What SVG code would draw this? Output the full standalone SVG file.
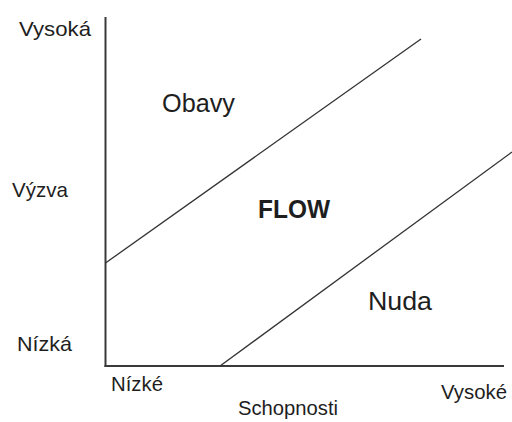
<svg xmlns="http://www.w3.org/2000/svg" width="512" height="422" viewBox="0 0 512 422">
<style>
.t{font-family:"Liberation Sans",Arial,sans-serif;fill:#1e1e1e;font-size:21px}
.big{font-size:25px}
.mid{font-size:20px}
.bold{font-size:25px;font-weight:bold}
.axis{stroke:#3a3a3a;stroke-width:2;fill:none}
.bound{stroke:#333;stroke-width:1.3;fill:none}
</style>
<rect width="512" height="422" fill="#fff"/>
<g id="axes">
<line class="axis" x1="105.5" y1="17" x2="105.5" y2="367"/>
<line class="axis" x1="104.5" y1="366" x2="504" y2="366"/>
</g>
<g id="connectors">
<line class="bound" x1="105.5" y1="263" x2="421" y2="39"/>
<line class="bound" x1="220" y1="366" x2="512" y2="152"/>
</g>
<g id="y-labels">
<text class="t" x="19" y="36" textLength="72" lengthAdjust="spacingAndGlyphs">Vysoká</text>
<text class="t" x="12" y="197" textLength="56" lengthAdjust="spacingAndGlyphs">Výzva</text>
<text class="t" x="17" y="351" textLength="55" lengthAdjust="spacingAndGlyphs">Nízká</text>
</g>
<g id="x-labels">
<text class="t" x="111" y="391" textLength="52" lengthAdjust="spacingAndGlyphs">Nízké</text>
<text class="t mid" x="238" y="415" textLength="100" lengthAdjust="spacingAndGlyphs">Schopnosti</text>
<text class="t" x="441" y="399" textLength="66" lengthAdjust="spacingAndGlyphs">Vysoké</text>
</g>
<g id="obavy"><text class="t big" x="162" y="112" textLength="73" lengthAdjust="spacingAndGlyphs">Obavy</text></g>
<g id="flow"><text class="t bold" x="258" y="218" textLength="72" lengthAdjust="spacingAndGlyphs">FLOW</text></g>
<g id="nuda"><text class="t big" x="368" y="310" textLength="64" lengthAdjust="spacingAndGlyphs">Nuda</text></g>
</svg>
